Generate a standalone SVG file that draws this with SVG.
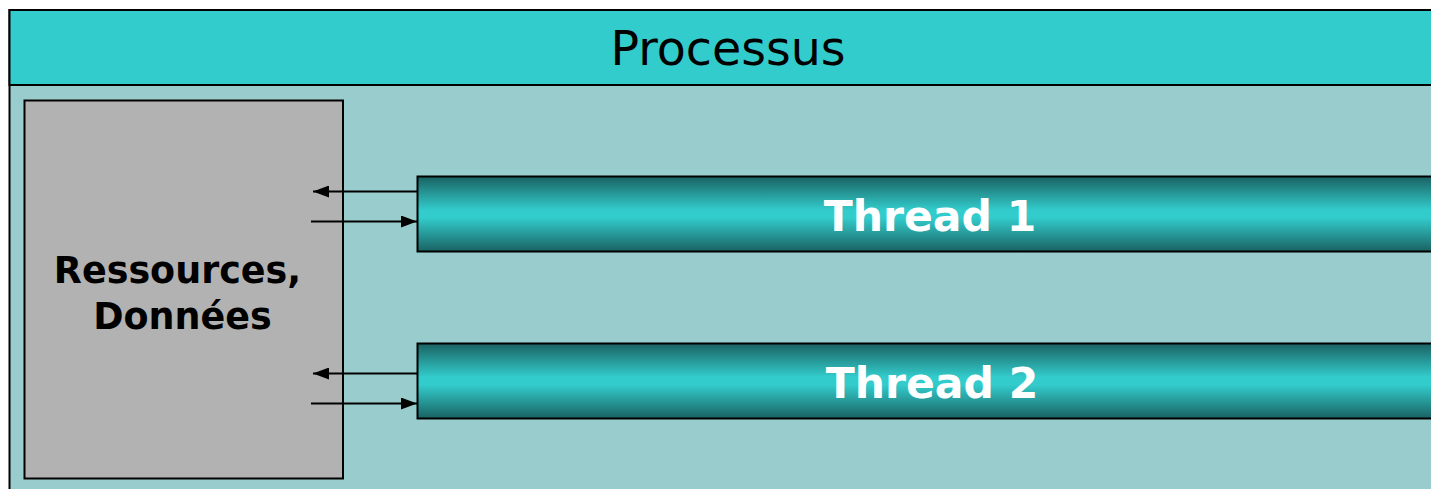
<svg xmlns="http://www.w3.org/2000/svg" width="1431" height="489" viewBox="0 0 1431 489">
  <style>
    .frame { stroke: #000; stroke-width: 2; }
    .label { font-family: "DejaVu Sans", Verdana, sans-serif; }
    .bold { font-weight: bold; }
    .link { stroke: #000; stroke-width: 2; fill: none; }
  </style>
  <defs>
    <linearGradient id="tube" x1="0" y1="0" x2="0" y2="1">
      <stop offset="0" stop-color="#1A6262"/>
      <stop offset="0.45" stop-color="#33CCCC"/>
      <stop offset="0.55" stop-color="#33CCCC"/>
      <stop offset="1" stop-color="#1A6262"/>
    </linearGradient>
    <marker id="arrow" viewBox="0 0 16 12" refX="16" refY="6" markerWidth="16" markerHeight="12" markerUnits="userSpaceOnUse" orient="auto">
      <path d="M0,0 L16,6 L0,12 Z" fill="#000"/>
    </marker>
  </defs>

  <!-- process container -->
  <g id="processus">
    <rect x="9.5" y="10" width="1440" height="490" fill="#99CCCC" class="frame"/>
    <rect x="9.5" y="10" width="1440" height="75" fill="#33CCCC" class="frame"/>
    <text x="728" y="65" text-anchor="middle" font-size="47.5" class="label" fill="#000">Processus</text>
  </g>

  <!-- shared resources -->
  <g id="ressources">
    <rect x="24.5" y="100.5" width="318.5" height="378" fill="#B2B2B2" class="frame"/>
    <text x="177.5" y="283" text-anchor="middle" font-size="36.5" class="label bold" fill="#000">Ressources,</text>
    <text x="182.5" y="329" text-anchor="middle" font-size="36.5" class="label bold" fill="#000">Données</text>
  </g>

  <!-- threads -->
  <g id="thread1">
    <rect x="417.5" y="176.5" width="1030" height="75" fill="url(#tube)" class="frame"/>
    <text x="930" y="231" text-anchor="middle" font-size="42.5" class="label bold" fill="#fff">Thread 1</text>
  </g>
  <g id="thread2">
    <rect x="417.5" y="343.5" width="1030" height="75" fill="url(#tube)" class="frame"/>
    <text x="932" y="398" text-anchor="middle" font-size="42.5" class="label bold" fill="#fff">Thread 2</text>
  </g>

  <!-- connectors -->
  <g id="connectors">
    <line x1="417" y1="191.5" x2="313" y2="191.5" class="link" marker-end="url(#arrow)"/>
    <line x1="311" y1="221.5" x2="417" y2="221.5" class="link" marker-end="url(#arrow)"/>
    <line x1="417" y1="373.5" x2="313" y2="373.5" class="link" marker-end="url(#arrow)"/>
    <line x1="311" y1="403.5" x2="417" y2="403.5" class="link" marker-end="url(#arrow)"/>
  </g>
</svg>
